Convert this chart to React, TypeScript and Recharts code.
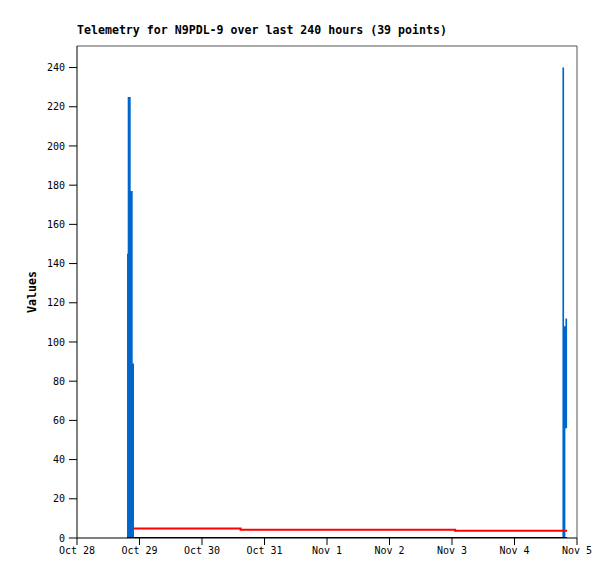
import React from "react"
import {
  ComposedChart,
  Area,
  Line,
  XAxis,
  YAxis,
  Label,
  ReferenceLine
} from "recharts"

// hours since Oct 28 00:00
const dayTicks = [0, 24, 48, 72, 96, 120, 144, 168, 192]
const dayLabels = ["Oct 28", "Oct 29", "Oct 30", "Oct 31", "Nov 1", "Nov 2", "Nov 3", "Nov 4", "Nov 5"]
const valueTicks = [0, 20, 40, 60, 80, 100, 120, 140, 160, 180, 200, 220, 240]

const blueHours = [19.2, 19.47, 20.62, 21.39, 21.89, 186.4, 187.04, 187.54, 188.2]
const blueLow = [0, 0, 0, 0, 0, 0, 0, 56, 0]
const blueHigh = [145, 225, 177, 89, 0, 240, 108, 112, 0]

const redHours = [21.89, 62.8, 145.2, 188.2]
const redValues = [4.85, 4.25, 3.65, 3.65]

const zeroHours = [19.2, 188.2]
const zeroValues = [0, 0]

const title = "Telemetry for N9PDL-9 over last 240 hours (39 points)"
const font = "'DejaVu Sans Mono', monospace"

const blueData = blueHours.map((h, i) => ({ h, v: [blueLow[i], blueHigh[i]] }))
const redData = redHours.map((h, i) => ({ h, v: redValues[i] }))
const zeroData = zeroHours.map((h, i) => ({ h, v: zeroValues[i] }))

export default function App() {
  const tick = { fontSize: 10, fontFamily: font, fill: "#000" }

  return (
    <div style={{ position: "absolute", left: 0, top: 0, width: 615, height: 579, background: "#fff" }}>
      <div
        style={{
          position: "absolute",
          left: 77,
          top: 25,
          fontFamily: font,
          fontSize: 11.6,
          fontWeight: "bold",
          lineHeight: 1,
          whiteSpace: "nowrap"
        }}
      >
        {title}
      </div>
      <ComposedChart
        width={615}
        height={579}
        margin={{ top: 46, right: 38, left: 0, bottom: 0 }}
      >
        <XAxis
          dataKey="h"
          type="number"
          domain={[0, 192]}
          ticks={dayTicks}
          tickFormatter={(v) => dayLabels[dayTicks.indexOf(v)]}
          allowDataOverflow
          height={41}
          tickSize={7}
          tick={tick}
          stroke="#000"
          interval={0}
        />
        <YAxis
          type="number"
          domain={[0, 251]}
          ticks={valueTicks}
          allowDataOverflow
          width={77}
          tickSize={8}
          tick={{ ...tick, dx: -2 }}
          stroke="#000"
          interval={0}
        >
          <Label
            content={() => (
              <text
                x={36}
                y={292}
                transform="rotate(-90 36 292)"
                textAnchor="middle"
                fontFamily={font}
                fontSize={11.6}
                fontWeight="bold"
                fill="#000"
              >
                Values
              </text>
            )}
          />
        </YAxis>

        <ReferenceLine y={251} stroke="#555" strokeWidth={1} />
        <ReferenceLine x={192} stroke="#555" strokeWidth={1} />

        <Area
          data={blueData}
          dataKey="v"
          type="stepAfter"
          stroke="none"
          fill="#0066cc"
          fillOpacity={1}
          isAnimationActive={false}
        />
        <Line
          data={zeroData}
          dataKey="v"
          type="linear"
          stroke="#000"
          strokeWidth={2}
          dot={false}
          isAnimationActive={false}
        />
        <Line
          data={redData}
          dataKey="v"
          type="stepAfter"
          stroke="#ff0000"
          strokeWidth={2}
          dot={false}
          isAnimationActive={false}
        />
      </ComposedChart>
    </div>
  )
}
